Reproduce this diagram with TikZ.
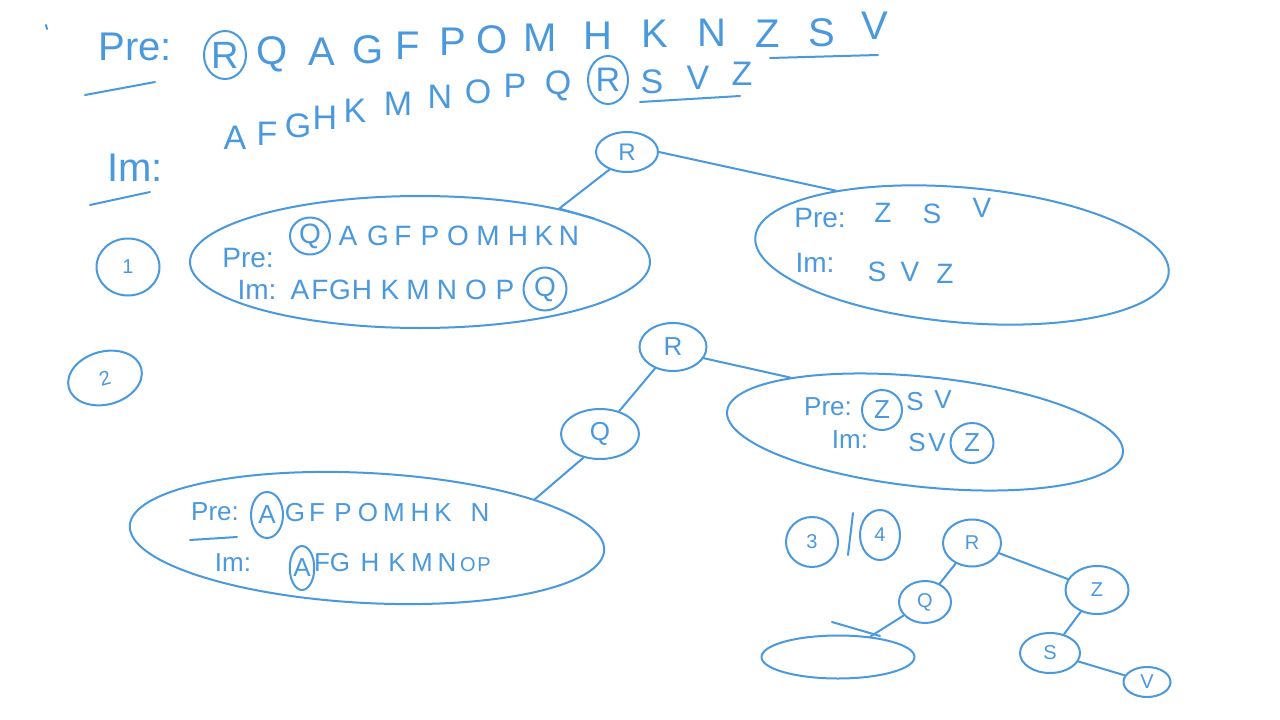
\documentclass[tikz,border=0pt]{standalone}
\usepackage{fontspec}
\setmainfont{Liberation Sans}
\usetikzlibrary{shapes.geometric}
\definecolor{ink}{RGB}{74,152,222}
\begin{document}
\begin{tikzpicture}[x=1pt,y=-1pt,color=ink,line width=2pt,line cap=round,line join=round,
	hw/.style={text=ink,inner sep=0pt,font=\fontsize{#1}{#1}\selectfont},hw/.default=28,
	ring/.style={draw=ink,ellipse,inner sep=0pt},
	bag/.style={draw=ink,ellipse,inner sep=0pt}]
	\useasboundingbox (0,0) rectangle (1280,720);
	\draw (46,25)--(47,29);
	% Pre / Im
	\node[hw=40] (pre) at (135,47) {Pre:};
	\draw (85,95)--(155,82);
	\node[ring,hw=38,minimum width=42,minimum height=48] (topR) at (225,55) {R};
	\foreach \l/\x/\y in {Q/272/54,A/322/52,G/368/50,F/408/46,P/453/42,O/492/40,M/540/38,H/598/36,K/655/34,N/712/33,Z/768/34,S/822/33,V/875/26}
	\node[hw=40] (top\l) at (\x,\y) {\l};
	\draw (770,58)--(878,55);
	\node[hw=40] (im) at (135,168) {Im:};
	\draw (90,205)--(150,192);
	\foreach \l/\x/\y in {A/235/138,F/267/134,G/298/126,H/325/118,K/355/111,M/398/104,N/440/97,O/478/92,P/515/86,Q/558/86,S/652/82,V/698/78,Z/742/74}
	\node[hw=34] (in\l) at (\x,\y) {\l};
	\node[ring,hw=34,minimum width=40,minimum height=48] (inR) at (608,80) {R};
	\draw (640,102)--(740,96);
	% step 1
	\node[ring,hw=20,minimum width=63,minimum height=57] (one) at (128,267) {1};
	\node[ring,hw=24,minimum width=62,minimum height=40] (r1) at (627,152) {R};
	\node[bag,minimum width=460,minimum height=132] (left1) at (420,262) {};
	\node[bag,minimum width=415,minimum height=135,rotate=-5] (right1) at (962,255) {};
	\draw (r1.225)--(left1.21)--++(35,10);
	\draw (r1.east)--(right1.158);
	\node[hw=28] (pre1) at (248,258) {Pre:};
	\node[ring,hw=28,minimum width=40,minimum height=37] (q1a) at (310,236) {Q};
	\foreach \l/\x in {A/348,G/378,F/403,P/430,O/458,M/488,H/518,K/544,N/569}
	\node[hw=28] (pa\l) at (\x,236) {\l};
	\node[hw=28] (im1) at (257,290) {Im:};
	\foreach \l/\x in {A/300,F/320,G/340,H/362,K/390,M/418,N/447,O/476,P/505}
	\node[hw=28] (ia\l) at (\x,290) {\l};
	\node[ring,hw=28,minimum width=43,minimum height=43] (q1b) at (545,289) {Q};
	\node[hw=28] (pre2) at (820,218) {Pre:};
	\foreach \l/\x/\y in {Z/883/213,S/932/214,V/982/208}
	\node[hw=28] (pb\l) at (\x,\y) {\l};
	\node[hw=28] (im2) at (815,263) {Im:};
	\foreach \l/\x/\y in {S/877/272,V/910/272,Z/945/274}
	\node[hw=28] (ib\l) at (\x,\y) {\l};
	% step 2
	\node[ring,hw=20,minimum width=75,minimum height=53,rotate=15] (two) at (105,378) {2};
	\node[ring,hw=26,minimum width=67,minimum height=48] (r2) at (673,347) {R};
	\node[ring,hw=26,minimum width=78,minimum height=50] (q2) at (600,434) {Q};
	\node[bag,minimum width=398,minimum height=110,rotate=-6] (right2) at (925,432) {};
	\node[bag,minimum width=475,minimum height=130,rotate=-3] (left2) at (367,538) {};
	\draw (r2)--(q2);
	\draw (r2.-20)--(right2.164);
	\draw (q2.235)--(left2.16);
	\node[hw=26] (pre3) at (828,407) {Pre:};
	\node[ring,hw=26,minimum width=40,minimum height=40] (zc1) at (882,410) {Z};
	\node[hw=26] (pcS) at (915,402) {S};
	\node[hw=26] (pcV) at (943,400) {V};
	\node[hw=26] (im3) at (850,440) {Im:};
	\node[hw=26] (icS) at (917,443) {S};
	\node[hw=26] (icV) at (937,443) {V};
	\node[ring,hw=26,minimum width=43,minimum height=40] (zc2) at (972,443) {Z};
	\node[hw=26] (pre4) at (215,512) {Pre:};
	\draw (190,540)--(237,537);
	\node[ring,hw=26,minimum width=32,minimum height=46] (ad1) at (267,515) {A};
	\foreach \l/\x in {G/295,F/317,P/343,O/368,M/394,H/420,K/443,N/480}
	\node[hw=26] (pd\l) at (\x,513) {\l};
	\node[hw=26] (im4) at (233,563) {Im:};
	\node[ring,hw=26,minimum width=24,minimum height=44] (ad2) at (302,568) {A};
	\foreach \l/\x in {F/322,G/340,H/370,K/397,M/422,N/447}
	\node[hw=26] (id\l) at (\x,563) {\l};
	\node[hw=20] (idO) at (468,565) {O};
	\node[hw=20] (idP) at (484,565) {P};
	% step 3 and 4
	\node[ring,hw=20,minimum width=52,minimum height=50] (three) at (812,542) {3};
	\draw (853,513)--(848,555);
	\node[ring,hw=20,minimum width=40,minimum height=50] (four) at (880,535) {4};
	\node[ring,hw=20,minimum width=58,minimum height=47] (r3) at (972,543) {R};
	\node[ring,hw=20,minimum width=52,minimum height=42] (q3) at (925,602) {Q};
	\node[ring,hw=20,minimum width=63,minimum height=48] (z3) at (1097,590) {Z};
	\node[ring,hw=20,minimum width=60,minimum height=40] (s3) at (1050,653) {S};
	\node[ring,hw=20,minimum width=47,minimum height=30] (v3) at (1147,682) {V};
	\node[bag,minimum width=153,minimum height=43] (leaf3) at (838,657) {};
	\draw (r3)--(q3) (r3)--(z3) (z3)--(s3) (s3)--(v3) (q3)--(leaf3);
	\draw (832,622)--(880,636);
\end{tikzpicture}
\end{document}
